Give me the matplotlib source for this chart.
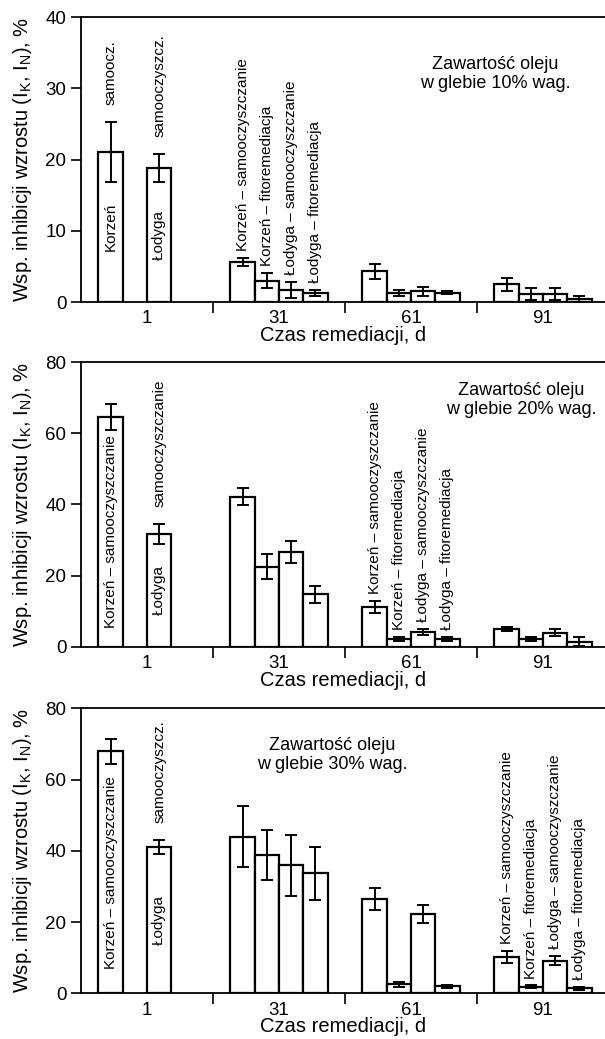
import numpy as np
import matplotlib.pyplot as plt

plt.rcParams["font.family"] = ["Liberation Sans", "DejaVu Sans"]
plt.rcParams["mathtext.default"] = "regular"

# === Data ===
days = ["1", "31", "61", "91"]
series_names = ["Korzeń – samooczyszczanie", "Korzeń – fitoremediacja",
                "Łodyga – samooczyszczanie", "Łodyga – fitoremediacja"]
nan = np.nan

# oil content 10%
oil10_ks = [21.1, 5.6, 4.3, 2.5]
oil10_ks_err = [4.2, 0.6, 1.1, 0.9]
oil10_kf = [nan, 3.0, 1.3, 1.1]
oil10_kf_err = [nan, 1.1, 0.4, 0.8]
oil10_ls = [18.8, 1.7, 1.5, 1.1]
oil10_ls_err = [2.0, 1.1, 0.6, 0.8]
oil10_lf = [nan, 1.3, 1.3, 0.45]
oil10_lf_err = [nan, 0.4, 0.2, 0.4]

# oil content 20%
oil20_ks = [64.7, 42.2, 11.1, 4.9]
oil20_ks_err = [3.7, 2.3, 1.7, 0.6]
oil20_kf = [nan, 22.5, 2.1, 2.1]
oil20_kf_err = [nan, 3.5, 0.5, 0.5]
oil20_ls = [31.7, 26.5, 4.2, 3.9]
oil20_ls_err = [2.9, 3.1, 0.8, 1.0]
oil20_lf = [nan, 14.8, 2.1, 1.4]
oil20_lf_err = [nan, 2.4, 0.5, 1.2]

# oil content 30%
oil30_ks = [68.0, 44.0, 26.5, 10.1]
oil30_ks_err = [3.5, 8.5, 3.0, 1.7]
oil30_kf = [nan, 38.8, 2.5, 1.9]
oil30_kf_err = [nan, 7.1, 0.6, 0.3]
oil30_ls = [41.0, 35.9, 22.3, 9.1]
oil30_ls_err = [2.0, 8.5, 2.6, 1.3]
oil30_lf = [nan, 33.7, 2.0, 1.4]
oil30_lf_err = [nan, 7.4, 0.4, 0.4]

oil_levels = ["10", "20", "30"]
y_max = [40, 80, 80]
y_step = [10, 20, 20]
labelled_group = [1, 2, 3]   # group where full series names are written
# day-1 texts: (inside Korzeń bar, inside Łodyga bar, above Korzeń, above Łodyga)
day1_texts = [
    ("Korzeń", "Łodyga", "samoocz.", "samooczyszcz."),
    ("Korzeń – samooczyszczanie", "Łodyga", None, "samooczyszczanie"),
    ("Korzeń – samooczyszczanie", "Łodyga", None, "samooczyszcz."),
]
note_pos = [(0.79, 0.80), (0.84, 0.868), (0.48, 0.836)]

panels = [
    [(oil10_ks, oil10_ks_err), (oil10_kf, oil10_kf_err), (oil10_ls, oil10_ls_err), (oil10_lf, oil10_lf_err)],
    [(oil20_ks, oil20_ks_err), (oil20_kf, oil20_kf_err), (oil20_ls, oil20_ls_err), (oil20_lf, oil20_lf_err)],
    [(oil30_ks, oil30_ks_err), (oil30_kf, oil30_kf_err), (oil30_ls, oil30_ls_err), (oil30_lf, oil30_lf_err)],
]

# === Figure ===
fig = plt.figure(figsize=(6.05, 10.39), dpi=100)
axes_boxes = [(0.134, 0.7093, 0.866, 0.2743),
              (0.134, 0.3776, 0.866, 0.2737),
              (0.134, 0.0440, 0.866, 0.2743)]

width = 0.184
x = np.arange(len(days))

for p, data in enumerate(panels):
    ax = fig.add_axes(axes_boxes[p])
    for k, (vals, errs) in enumerate(data):
        vals = np.array(vals, dtype=float)
        errs = np.array(errs, dtype=float)
        ok = ~np.isnan(vals)
        xs = x[ok] + (k - 1.5) * width
        ax.bar(xs, vals[ok], width, yerr=errs[ok], color="white",
               edgecolor="black", linewidth=1.6,
               error_kw=dict(ecolor="black", elinewidth=1.4, capsize=4, capthick=1.4))
        # full series name above the bars of one group
        g = labelled_group[p]
        ax.annotate(series_names[k], (x[g] + (k - 1.5) * width, vals[g] + errs[g]),
                    xytext=(0, 5), textcoords="offset points",
                    rotation=90, ha="center", va="bottom", fontsize=11)

    # day-1 texts
    inside_k, inside_l, above_k, above_l = day1_texts[p]
    for k, txt_in, txt_up in [(0, inside_k, above_k), (2, inside_l, above_l)]:
        vals, errs = data[k]
        xc = x[0] + (k - 1.5) * width
        ax.text(xc, vals[0] / 2, txt_in, rotation=90, ha="center", va="center", fontsize=11)
        if txt_up:
            ax.annotate(txt_up, (xc, vals[0] + errs[0]), xytext=(0, 12),
                        textcoords="offset points", rotation=90,
                        ha="center", va="bottom", fontsize=11)

    ax.text(*note_pos[p], f"Zawartość oleju\nw glebie {oil_levels[p]}% wag.",
            transform=ax.transAxes, ha="center", va="center", fontsize=13)

    ax.set_xlim(-0.5, 3.47)
    ax.set_ylim(0, y_max[p])
    ax.set_yticks(np.arange(0, y_max[p] + 1, y_step[p]))
    ax.set_xticks(x)
    ax.set_xticklabels(days)
    ax.set_xticks(x[:-1] + 0.5, minor=True)
    ax.tick_params(axis="x", which="major", length=0, pad=6, labelsize=13.5)
    ax.tick_params(axis="x", which="minor", length=8, width=1.2, direction="out")
    ax.tick_params(axis="y", length=7, width=1.2, direction="out", labelsize=13.5)
    ax.spines["right"].set_visible(False)
    for s in ["left", "bottom", "top"]:
        ax.spines[s].set_linewidth(1.3)
    ax.set_xlabel("Czas remediacji, d", fontsize=14.5, labelpad=-1)
    ax.set_ylabel("Wsp. inhibicji wzrostu (I$_{K}$, I$_{N}$), %", fontsize=14.5, labelpad=8)

fig.savefig("out.png", dpi=100)
